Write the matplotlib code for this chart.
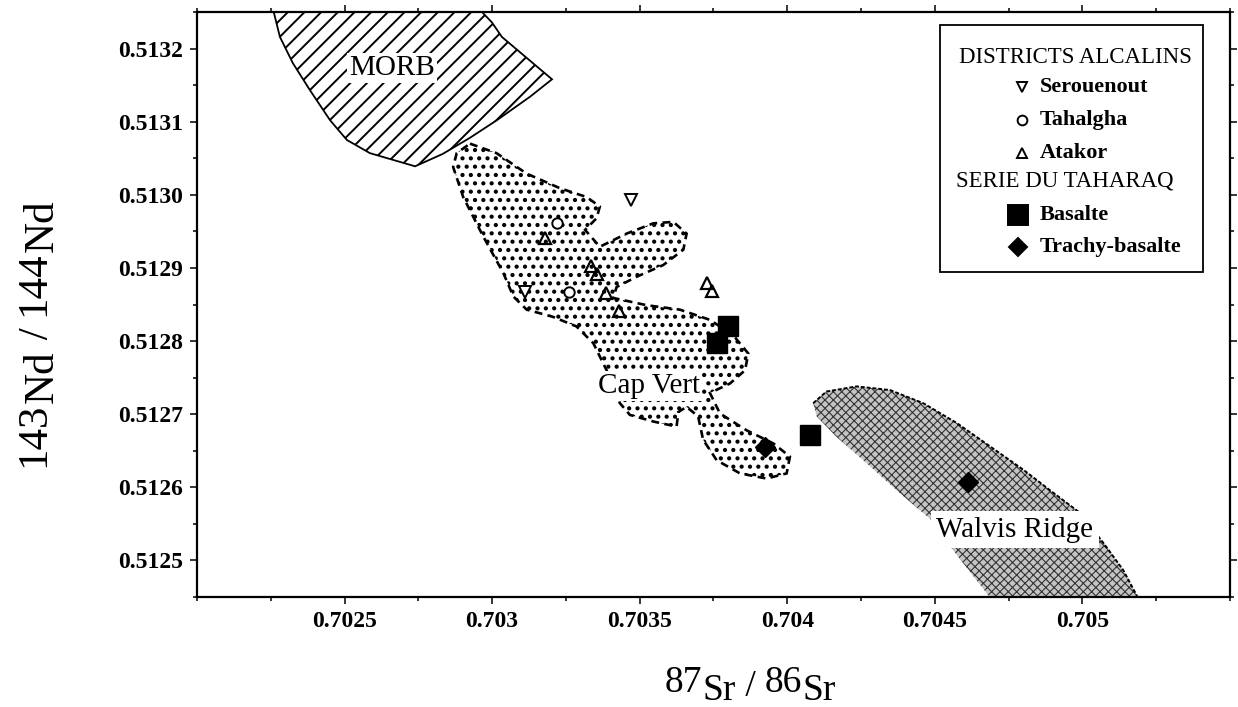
import matplotlib
matplotlib.use('Agg')
import matplotlib.pyplot as plt
from matplotlib.patches import Polygon, Rectangle
from matplotlib.ticker import MultipleLocator, FixedLocator, FixedFormatter

plt.rcParams['font.family'] = ['Liberation Serif', 'DejaVu Serif']

# ---------------- data ----------------
serouenout_sr = [0.70347, 0.70311]
serouenout_nd = [0.512993, 0.512867]

tahalgha_sr = [0.70322, 0.70326]
tahalgha_nd = [0.512961, 0.512867]

atakor_sr = [0.70318, 0.703335, 0.703355, 0.703386, 0.70343, 0.703728, 0.703745]
atakor_nd = [0.512941, 0.512903, 0.512892, 0.512866, 0.512841, 0.512879, 0.512868]

basalte_sr = [0.703799, 0.703762, 0.704077]
basalte_nd = [0.512821, 0.512797, 0.512672]

trachy_sr = [0.703924, 0.704612]
trachy_nd = [0.512655, 0.512607]

morb_sr = [0.702254, 0.702281, 0.702325, 0.702383, 0.702451, 0.702508, 0.702586,
           0.702739, 0.702833, 0.702925, 0.703016, 0.703128, 0.703203, 0.703033,
           0.702999, 0.702942]
morb_nd = [0.51326, 0.513216, 0.513180, 0.513143, 0.513102, 0.513075, 0.513057,
           0.513039, 0.513056, 0.513078, 0.513102, 0.513134, 0.513158, 0.513216,
           0.513236, 0.51326]

capvert_sr = [0.702925, 0.703015, 0.703117, 0.703230, 0.703320, 0.703365, 0.703354,
              0.703315, 0.703365, 0.703456, 0.703546, 0.703614, 0.703659, 0.703648,
              0.703580, 0.703490, 0.703422, 0.703410, 0.703524, 0.703636, 0.703738,
              0.703817, 0.703868, 0.703857, 0.703806, 0.703738, 0.703772, 0.703862,
              0.703953, 0.704009, 0.703998, 0.703930, 0.703840, 0.703761, 0.703715,
              0.703698, 0.703659, 0.703631, 0.703625, 0.703546, 0.703467, 0.703433,
              0.703388, 0.703343, 0.703286, 0.703207, 0.703117, 0.703072, 0.703038,
              0.702970, 0.702902, 0.702868, 0.702880]
capvert_nd = [0.513070, 0.513057, 0.513029, 0.513009, 0.512997, 0.512984, 0.512968,
              0.512952, 0.512929, 0.512947, 0.512961, 0.512963, 0.512947, 0.512925,
              0.512904, 0.512888, 0.512874, 0.512859, 0.512849, 0.512843, 0.512829,
              0.512808, 0.512783, 0.512760, 0.512742, 0.512729, 0.512701, 0.512678,
              0.512660, 0.512642, 0.512619, 0.512612, 0.512619, 0.512637, 0.512665,
              0.512697, 0.512710, 0.512703, 0.512683, 0.512690, 0.512699, 0.512715,
              0.512760, 0.512797, 0.512820, 0.512833, 0.512843, 0.512861, 0.512893,
              0.512943, 0.512997, 0.513038, 0.513057]

walvis_sr = [0.704088, 0.704133, 0.704235, 0.704348, 0.704461, 0.704574, 0.704687,
             0.704800, 0.704890, 0.704992, 0.705071, 0.705138, 0.705200, 0.704705,
             0.704562, 0.704489, 0.704382, 0.704269, 0.704167, 0.704100]
walvis_nd = [0.512715, 0.512731, 0.512738, 0.512733, 0.512715, 0.512688, 0.512656,
             0.512624, 0.512596, 0.512565, 0.512524, 0.512487, 0.51244, 0.51244,
             0.512514, 0.512555, 0.512592, 0.512633, 0.512669, 0.512697]

x_ticks = [0.7025, 0.7030, 0.7035, 0.7040, 0.7045, 0.7050]
x_tick_labels = ['0.7025', '0.703', '0.7035', '0.704', '0.7045', '0.705']
y_ticks = [0.5125, 0.5126, 0.5127, 0.5128, 0.5129, 0.5130, 0.5131, 0.5132]
y_tick_labels = ['0.5125', '0.5126', '0.5127', '0.5128', '0.5129', '0.5130', '0.5131', '0.5132']

# ---------------- figure ----------------
fig = plt.figure(figsize=(12.38, 7.07), dpi=100)
ax = fig.add_axes([0.1591, 0.1556, 0.8344, 0.8274])
ax.set_xlim(0.7020, 0.7055)
ax.set_ylim(0.51245, 0.51325)

# regions
plt.rcParams['hatch.linewidth'] = 1.4
morb = Polygon(list(zip(morb_sr, morb_nd)), closed=True, facecolor='white',
               edgecolor='black', hatch='//', linewidth=1.3, zorder=1)
ax.add_patch(morb)

plt.rcParams['hatch.linewidth'] = 1.8
cap_fill = Polygon(list(zip(capvert_sr, capvert_nd)), closed=True, facecolor='white',
                   edgecolor='black', hatch='..', linewidth=0, zorder=1)
ax.add_patch(cap_fill)
cap_edge = Polygon(list(zip(capvert_sr, capvert_nd)), closed=True, fill=False,
                   edgecolor='black', linewidth=1.9, linestyle=(0, (3, 2)), zorder=1.1)
ax.add_patch(cap_edge)

plt.rcParams['hatch.linewidth'] = 0.8
walvis = Polygon(list(zip(walvis_sr, walvis_nd)), closed=True, facecolor='#c4c4c4',
                 edgecolor='#333333', hatch='xxxx', linewidth=0, zorder=1)
ax.add_patch(walvis)
ax.plot(walvis_sr[:13], walvis_nd[:13], color='black', lw=1.4,
        linestyle=(0, (2, 1)), zorder=1.1)

# region labels
ax.text(0.70266, 0.513173, 'MORB', fontsize=21, ha='center', va='center', zorder=2,
        bbox=dict(facecolor='white', edgecolor='none', pad=1.5))
ax.text(0.70353, 0.512739, 'Cap Vert', fontsize=21, ha='center', va='center', zorder=2,
        bbox=dict(facecolor='white', edgecolor='none', pad=1.5))
ax.text(0.704771, 0.512542, 'Walvis Ridge', fontsize=21, ha='center', va='center', zorder=2,
        bbox=dict(facecolor='white', edgecolor='none', pad=4))

# data points
ax.plot(serouenout_sr, serouenout_nd, linestyle='none', marker='v', ms=8,
        mfc='white', mec='black', mew=1.4, zorder=3)
ax.plot(tahalgha_sr, tahalgha_nd, linestyle='none', marker='o', ms=7.5,
        mfc='white', mec='black', mew=1.4, zorder=3)
ax.plot(atakor_sr, atakor_nd, linestyle='none', marker='^', ms=8.5,
        mfc='none', mec='black', mew=1.6, zorder=3)
ax.plot(basalte_sr, basalte_nd, linestyle='none', marker='s', ms=15,
        mfc='black', mec='black', zorder=4)
ax.plot(trachy_sr, trachy_nd, linestyle='none', marker='D', ms=10.5,
        mfc='black', mec='black', zorder=4)

# axes styling
ax.xaxis.set_major_locator(FixedLocator(x_ticks))
ax.xaxis.set_major_formatter(FixedFormatter(x_tick_labels))
ax.yaxis.set_major_locator(FixedLocator(y_ticks))
ax.yaxis.set_major_formatter(FixedFormatter(y_tick_labels))
ax.xaxis.set_minor_locator(MultipleLocator(0.00025))
ax.yaxis.set_minor_locator(MultipleLocator(0.00005))
ax.tick_params(which='both', direction='out', top=True, right=True, width=1.1,
               labelsize=17)
ax.tick_params(which='major', length=5, pad=5)
ax.tick_params(which='minor', length=3)
for lab in ax.get_xticklabels() + ax.get_yticklabels():
    lab.set_fontweight('bold')
for s in ax.spines.values():
    s.set_linewidth(1.6)

# legend (manual, centred headers)
ax.add_patch(Rectangle((0.7193, 0.5556), 0.2546, 0.4222, transform=ax.transAxes,
                       facecolor='white', edgecolor='black', lw=1.3, zorder=5))
ax.text(0.850, 0.9231, 'DISTRICTS ALCALINS', transform=ax.transAxes, fontsize=16.5,
        ha='center', va='center', zorder=6)
ax.text(0.840, 0.7111, 'SERIE DU TAHARAQ', transform=ax.transAxes, fontsize=16.5,
        ha='center', va='center', zorder=6)
legend_entries = [
    ('Serouenout', 'v', 6.5, 'white', 0.7986, 0.8718),
    ('Tahalgha', 'o', 7, 'white', 0.7986, 0.8154),
    ('Atakor', '^', 7, 'white', 0.7986, 0.7590),
    ('Basalte', 's', 14.5, 'black', 0.7948, 0.6530),
    ('Trachy-basalte', 'D', 9.5, 'black', 0.7948, 0.5983),
]
for name, mk, ms, fc, mx, my in legend_entries:
    ax.plot([mx], [my], transform=ax.transAxes, marker=mk, ms=ms, mfc=fc,
            mec='black', mew=1.4, linestyle='none', clip_on=False, zorder=6)
    ax.text(0.8161, my, name, transform=ax.transAxes, fontsize=16, fontweight='bold',
            ha='left', va='center', zorder=6)


# axis titles built from pieces (isotope number + lowered element symbol)
def chained_label(pieces, x, y, size, vertical=False):
    first = fig.text(x, y, pieces[0][0], fontsize=size,
                     rotation=90 if vertical else 0,
                     ha='right' if vertical else 'left', va='bottom')
    prev = first
    for txt, shift in pieces[1:]:
        if vertical:
            prev = ax.annotate(txt, xy=(1, 1), xycoords=(first, prev),
                               xytext=(shift, 0), textcoords='offset points',
                               rotation=90, ha='right', va='bottom', fontsize=size,
                               annotation_clip=False)
        else:
            prev = ax.annotate(txt, xy=(1, 0), xycoords=(prev, first),
                               xytext=(0, -shift), textcoords='offset points',
                               ha='left', va='bottom', fontsize=size,
                               annotation_clip=False)


chained_label([('87', 0), ('Sr', 6), (' / ', 3), ('86', 0), ('Sr', 6)],
              0.5372, 0.0099, 27)
chained_label([('143', 0), ('Nd', 6), (' / ', 3), ('144', 0), ('Nd', 6)],
              0.0428, 0.3395, 31, vertical=True)

fig.savefig('out.png', dpi=100)
